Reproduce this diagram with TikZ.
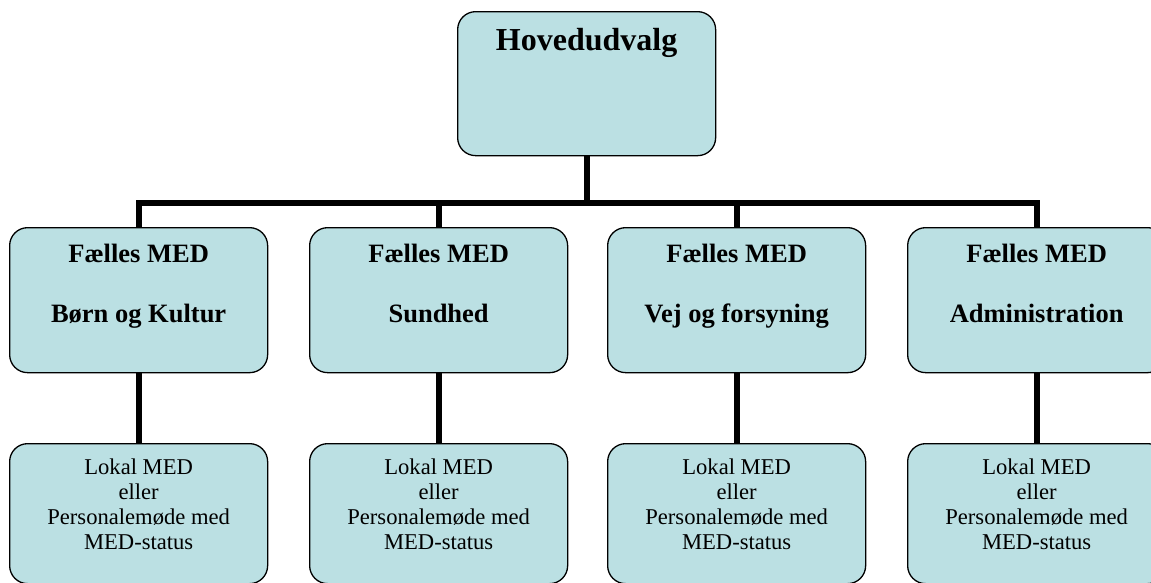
\documentclass[tikz,border=0pt]{standalone}
\usepackage{fontspec}
\setmainfont{Liberation Serif}
\definecolor{boxfill}{HTML}{BBE0E3}
\begin{document}
\begin{tikzpicture}[x=1pt,y=-1pt,
  box/.style={draw=black, line width=1.3pt, fill=boxfill, rounded corners=18pt,
    minimum width=258pt, inner sep=0pt, anchor=north west},
  midbox/.style={box, minimum height=145pt},
  lowbox/.style={box, minimum height=140pt},
  conn/.style={line width=6pt, line join=miter},
  toptext/.style={font=\fontsize{32}{36}\selectfont\bfseries, anchor=base, inner sep=0pt},
  midtext/.style={font=\fontsize{26.5}{30}\selectfont\bfseries, anchor=base, inner sep=0pt},
  lowtext/.style={font=\fontsize{22.6}{25}\selectfont, anchor=base, inner sep=0pt, align=center}]
\useasboundingbox (0,0) rectangle (1151,582);

\coordinate (tpos) at (457,11);
\coordinate (bus) at (586,203);

% placeholders for connector ends (drawn under the boxes)
\path (tpos) node[box, minimum height=144pt, draw=none, fill=none] (topph) {};
\path (9,227) node[midbox, draw=none, fill=none] (m1ph) {}
      (309,227) node[midbox, draw=none, fill=none] (m2ph) {}
      (607,227) node[midbox, draw=none, fill=none] (m3ph) {}
      (907,227) node[midbox, draw=none, fill=none] (m4ph) {};
\path (9,443) node[lowbox, draw=none, fill=none] (l1ph) {}
      (309,443) node[lowbox, draw=none, fill=none] (l2ph) {}
      (607,443) node[lowbox, draw=none, fill=none] (l3ph) {}
      (907,443) node[lowbox, draw=none, fill=none] (l4ph) {};

\coordinate (j1) at (m1ph.north |- bus);
\coordinate (j2) at (m2ph.north |- bus);
\coordinate (j3) at (m3ph.north |- bus);
\coordinate (j4) at (m4ph.north |- bus);
\coordinate (jt) at (topph.south |- bus);

\draw[conn] (m1ph.north) -- (j1) -- (j4) -- (m4ph.north);
\draw[conn] (topph.south) -- (jt);
\draw[conn] (j2) -- (m2ph.north);
\draw[conn] (j3) -- (m3ph.north);
\draw[conn] (m1ph.south) -- (l1ph.north);
\draw[conn] (m2ph.south) -- (l2ph.north);
\draw[conn] (m3ph.south) -- (l3ph.north);
\draw[conn] (m4ph.south) -- (l4ph.north);

% visible boxes
\node[box, minimum height=144pt] (top) at (tpos) {};
\node[midbox] (m1) at (9,227) {};
\node[midbox] (m2) at (309,227) {};
\node[midbox] (m3) at (607,227) {};
\node[midbox] (m4) at (907,227) {};
\node[lowbox] (l1) at (9,443) {};
\node[lowbox] (l2) at (309,443) {};
\node[lowbox] (l3) at (607,443) {};
\node[lowbox] (l4) at (907,443) {};

% texts
\node[toptext] (ttop) at ([yshift=-39pt]top.north) {Hovedudvalg};

\foreach \b/\t in {m1/Børn og Kultur, m2/Sundhed, m3/Vej og forsyning, m4/Administration}{
  \node[midtext] at ([yshift=-35pt]\b.north) {Fælles MED};
  \node[midtext] at ([yshift=-95pt]\b.north) {\t};
}
\foreach \b in {l1,l2,l3,l4}{
  \node[lowtext] at ([yshift=-106.5pt]\b.north) {Lokal MED\\eller\\Personalemøde med\\MED-status};
}
\end{tikzpicture}
\end{document}
